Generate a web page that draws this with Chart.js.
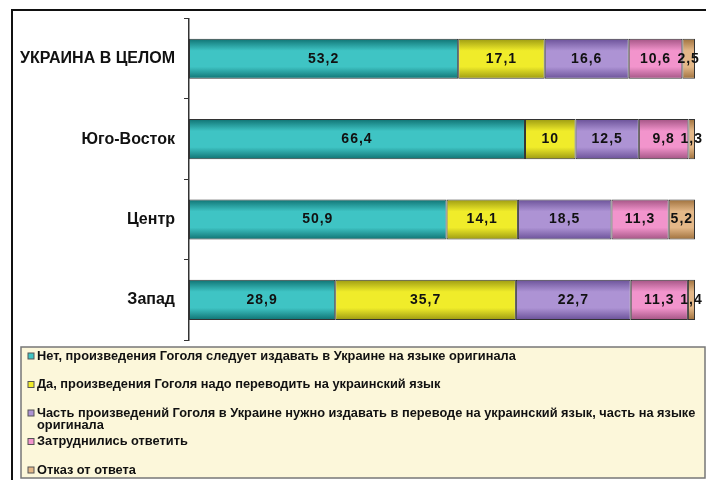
<!DOCTYPE html>
<html lang="ru">
<head>
  <meta charset="UTF-8">
  <title>Гоголь</title>
  <script src="https://cdn.jsdelivr.net/npm/chart.js"></script>
  <style>
    body { margin: 0; padding: 0; background: #fff; }
    #wrap { width: 706px; height: 480px; }
  </style>
</head>
<body>
  <div id="wrap"><canvas id="chart" width="706" height="480"></canvas></div>

  <script>
    // Data
    const regions = ['УКРАИНА В ЦЕЛОМ', 'Юго-Восток', 'Центр', 'Запад'];
    const answers = [
      'Нет, произведения Гоголя следует издавать в Украине на языке оригинала',
      'Да, произведения Гоголя надо переводить на украинский язык',
      'Часть произведений Гоголя в Украине нужно издавать в переводе на украинский язык, часть на языке оригинала',
      'Затруднились ответить',
      'Отказ от ответа'
    ];
    const origLang = [53.2, 66.4, 50.9, 28.9];
    const translate = [17.1, 10, 14.1, 35.7];
    const partly = [16.6, 12.5, 18.5, 22.7];
    const unsure = [10.6, 9.8, 11.3, 11.3];
    const refused = [2.5, 1.3, 5.2, 1.4];

    // colours: [middle, edge]
    const colors = [
      ['#3fc4c4', '#0f7272'],
      ['#f0ec2a', '#9c9a12'],
      ['#ad93d4', '#6a5198'],
      ['#f294cc', '#a35484'],
      ['#e4b888', '#9e703c']
    ];

    const font = '"Liberation Sans", Arial, sans-serif';

    function barFill(i) {
      return function (ctx) {
        const chart = ctx.chart;
        const y = chart.scales.y;
        if (!chart.chartArea || !y) return colors[i][0];
        const c = y.getPixelForValue(ctx.dataIndex);
        const half = (y.getPixelForValue(1) - y.getPixelForValue(0)) * 0.5 / 2;
        const g = chart.ctx.createLinearGradient(0, c - half, 0, c + half);
        g.addColorStop(0, colors[i][1]);
        g.addColorStop(0.3, colors[i][0]);
        g.addColorStop(0.7, colors[i][0]);
        g.addColorStop(1, colors[i][1]);
        return g;
      };
    }

    const series = [origLang, translate, partly, unsure, refused];

    // value labels inside the bars
    const valueLabels = {
      id: 'valueLabels',
      afterDatasetsDraw(chart) {
        const ctx = chart.ctx;
        ctx.save();
        ctx.font = 'bold 14px ' + font;
        ctx.letterSpacing = '1px';
        ctx.fillStyle = '#111';
        ctx.textAlign = 'center';
        ctx.textBaseline = 'middle';
        chart.data.datasets.forEach((ds, di) => {
          chart.getDatasetMeta(di).data.forEach((bar, i) => {
            const x = (bar.x + bar.base) / 2;
            ctx.fillText(String(ds.data[i]).replace('.', ','), x, bar.y);
          });
        });
        ctx.restore();
      }
    };

    // frame + legend box
    const frameLegend = {
      id: 'frameLegend',
      beforeDraw(chart) {
        const ctx = chart.ctx;
        ctx.save();
        ctx.strokeStyle = '#111';
        ctx.lineWidth = 2;
        ctx.strokeRect(12, 10, 700, 480);
        ctx.restore();
      },
      afterDraw(chart) {
        const ctx = chart.ctx;
        ctx.save();
        ctx.fillStyle = '#fcf7da';
        ctx.fillRect(21, 347, 684, 131);
        ctx.strokeStyle = '#777';
        ctx.lineWidth = 1.5;
        ctx.strokeRect(21, 347, 684, 131);

        ctx.font = 'bold 12.8px ' + font;
        ctx.textBaseline = 'middle';
        ctx.textAlign = 'left';
        const maxW = 664;
        let y = 356;
        answers.forEach((txt, i) => {
          ctx.fillStyle = colors[i][0];
          ctx.fillRect(28, y - 3, 6, 6);
          ctx.strokeStyle = '#555';
          ctx.lineWidth = 1;
          ctx.strokeRect(28, y - 3, 6, 6);
          ctx.fillStyle = '#111';
          // simple word wrap
          const words = txt.split(' ');
          let line = '';
          let ly = y;
          words.forEach(w => {
            const test = line ? line + ' ' + w : w;
            if (ctx.measureText(test).width > maxW && line) {
              ctx.fillText(line, 37, ly);
              line = w;
              ly += 12;
            } else {
              line = test;
            }
          });
          ctx.fillText(line, 37, ly);
          y += 28.5;
        });
        ctx.restore();
      }
    };

    new Chart(document.getElementById('chart'), {
      type: 'bar',
      data: {
        labels: regions,
        datasets: series.map((d, i) => ({
          label: answers[i],
          data: d,
          backgroundColor: barFill(i),
          borderColor: '#333',
          borderWidth: 1,
          borderSkipped: false,
          barPercentage: 0.5,
          categoryPercentage: 1
        }))
      },
      options: {
        indexAxis: 'y',
        responsive: false,
        animation: false,
        layout: { padding: { top: 15, right: 11, bottom: 140, left: 0 } },
        plugins: {
          legend: { display: false },
          tooltip: { enabled: false }
        },
        scales: {
          x: {
            stacked: true,
            min: 0,
            max: 100,
            display: false
          },
          y: {
            stacked: true,
            afterFit(scale) { scale.width = 189; },
            border: { display: true, color: '#333', width: 1.5 },
            grid: { offset: true, drawOnChartArea: false, drawTicks: true, tickLength: 5, color: '#333' },
            ticks: {
              color: '#111',
              padding: 9,
              font: { family: font, size: 16, weight: 'bold' }
            }
          }
        }
      },
      plugins: [valueLabels, frameLegend]
    });
  </script>
</body>
</html>
